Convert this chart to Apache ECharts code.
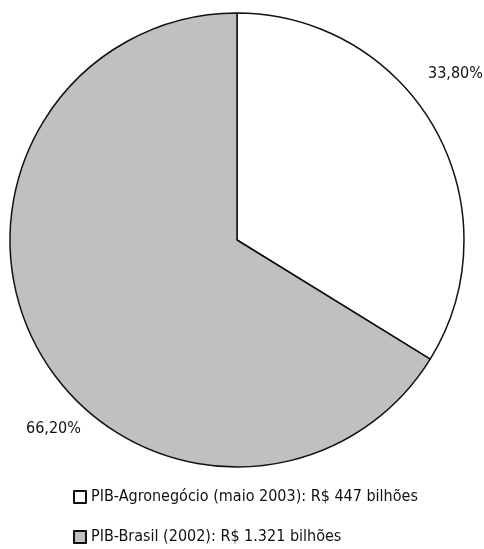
<!DOCTYPE html>
<html><head><meta charset="utf-8">
<script src="https://cdn.jsdelivr.net/npm/echarts@6/dist/echarts.min.js"></script>
<style>html,body{margin:0;padding:0;background:#fff}#c{width:484px;height:549px}</style>
</head><body><div id="c"></div>
<script>
const categories = ['PIB-Agronegócio (maio 2003): R$ 447 bilhões', 'PIB-Brasil (2002): R$ 1.321 bilhões'];
const shares = [33.80, 66.20];
const sliceLabels = ['33,80%', '66,20%'];
const colors = ['#ffffff', '#c0c0c0'];

const FONT = '"Liberation Sans Narrow", "DejaVu Sans Condensed", sans-serif';
const labelPos = [[428, 75], [26, 430]];

const chart = echarts.init(document.getElementById('c'), null, {renderer: 'canvas'});
chart.setOption({
  animation: false,
  legend: {
    orient: 'vertical', left: 73, top: 489, itemGap: 24, padding: 0, height: 80,
    itemWidth: 12, itemHeight: 12, icon: 'rect',
    textStyle: {fontFamily: FONT, fontSize: 16, color: '#111'},
    data: categories
  },
  graphic: sliceLabels.map((t, i) => ({
    type: 'text', left: labelPos[i][0], top: labelPos[i][1] - 9,
    style: {text: t, font: '16px ' + FONT, fill: '#111'}
  })),
  series: [{
    type: 'pie', center: [237, 240], radius: 227, startAngle: 90, clockwise: true,
    data: categories.map((n, i) => ({name: n, value: shares[i], itemStyle: {color: colors[i]}})),
    itemStyle: {borderColor: '#111', borderWidth: 1.5},
    label: {show: false},
    labelLine: {show: false},
    emphasis: {disabled: true}
  }]
});
</script></body></html>
